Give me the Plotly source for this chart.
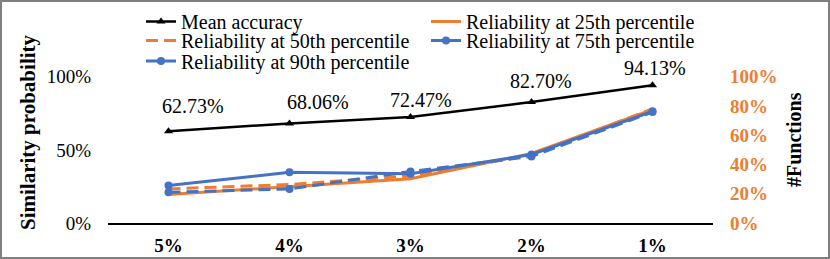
import plotly.graph_objects as go

categories = ["5%", "4%", "3%", "2%", "1%"]
mean_accuracy = [0.6273, 0.6806, 0.7247, 0.8270, 0.9413]
mean_labels = ["62.73%", "68.06%", "72.47%", "82.70%", "94.13%"]
rel_25 = [0.195, 0.251, 0.302, 0.475, 0.775]
rel_50 = [0.233, 0.263, 0.322, 0.465, 0.78]
rel_75 = [0.256, 0.347, 0.336, 0.468, 0.763]
rel_90 = [0.210, 0.233, 0.352, 0.455, 0.758]

left_ticks = [0, 0.5, 1.0]
right_ticks = [0, 0.2, 0.4, 0.6, 0.8, 1.0]

# label offsets (styling)
label_dx = [24, 28, 10, 9, 2]
label_dy = [25, 21, 17, 21, 17]

ORANGE = "#ED7D31"
BLUE = "#4472C4"
FONT = "Liberation Serif"

W, H = 830, 259
L, R, T, B = 108, 117, 0, 36
pw, ph = W - L - R, H - T - B
YMAX = ph / 146.3


def px_x(p):
    return (p - L) / pw


def px_y(p):
    return (H - B - p) / ph


fig = go.Figure()
fig.add_trace(go.Scatter(x=categories, y=mean_accuracy, name="Mean accuracy",
                         mode="lines+markers", yaxis="y", legend="legend",
                         line=dict(color="black", width=2.5),
                         marker=dict(symbol="triangle-up", size=8, color="black")))
fig.add_trace(go.Scatter(x=categories, y=rel_25, name="Reliability at 25th percentile",
                         mode="lines", yaxis="y2", legend="legend",
                         line=dict(color=ORANGE, width=3)))
fig.add_trace(go.Scatter(x=categories, y=rel_50, name="Reliability at 50th percentile",
                         mode="lines", yaxis="y2", legend="legend2",
                         line=dict(color=ORANGE, width=3, dash="12px,6px")))
fig.add_trace(go.Scatter(x=categories, y=rel_75, name="Reliability at 75th percentile",
                         mode="lines+markers", yaxis="y2", legend="legend2",
                         line=dict(color=BLUE, width=3),
                         marker=dict(symbol="circle", size=8, color=BLUE)))
fig.add_trace(go.Scatter(x=categories, y=rel_90, name="Reliability at 90th percentile",
                         mode="lines+markers", yaxis="y2", legend="legend3",
                         line=dict(color=BLUE, width=3, dash="12px,6px"),
                         marker=dict(symbol="circle", size=8, color=BLUE)))

for c, v, t, dx, dy in zip(categories, mean_accuracy, mean_labels, label_dx, label_dy):
    fig.add_annotation(x=c, y=v, xref="x", yref="y", text=t, showarrow=False,
                       xshift=dx, yshift=dy, font=dict(family=FONT, size=20, color="black"))

fig.add_annotation(x=px_x(28), y=px_y(132), xref="paper", yref="paper",
                   xanchor="center", yanchor="middle",
                   text="<b>Similarity probability</b>", textangle=-90, showarrow=False,
                   font=dict(family=FONT, size=21, color="black"))
fig.add_annotation(x=px_x(794), y=px_y(140), xref="paper", yref="paper",
                   xanchor="center", yanchor="middle",
                   text="<b>#Functions</b>", textangle=-90, showarrow=False,
                   font=dict(family=FONT, size=20, color="black"))

fig.add_shape(type="rect", xref="paper", yref="paper",
              x0=px_x(1), x1=px_x(829), y0=px_y(258), y1=px_y(1),
              line=dict(color="#7f7f7f", width=2))

legend_common = dict(orientation="h", xanchor="left", yanchor="top",
                     entrywidth=240, entrywidthmode="pixels",
                     font=dict(family=FONT, size=20, color="black"),
                     bgcolor="rgba(0,0,0,0)", borderwidth=0)

fig.update_layout(
    width=W, height=H,
    margin=dict(l=L, r=R, t=T, b=B, pad=0),
    paper_bgcolor="white", plot_bgcolor="white",
    font=dict(family=FONT, size=19, color="black"),
    showlegend=True,
    legend=dict(x=px_x(141), y=px_y(2), **legend_common),
    legend2=dict(x=px_x(141), y=px_y(21), **legend_common),
    legend3=dict(x=px_x(141), y=px_y(41.5), **legend_common),
    xaxis=dict(type="category", range=[-0.5, 4.5], showgrid=False, showline=True,
               linecolor="black", linewidth=1.5,
               ticks="", tickfont=dict(family=FONT, size=19, color="black", weight="bold"),
               ticklabelstandoff=4, zeroline=False, automargin=False),
    yaxis=dict(range=[0, YMAX], tickvals=left_ticks, tickformat=".0%", showgrid=False,
               showline=False, zeroline=False, ticks="", ticklabelstandoff=16,
               automargin=False,
               tickfont=dict(family=FONT, size=19, color="black")),
    yaxis2=dict(range=[0, YMAX], tickvals=right_ticks, tickformat=".0%", overlaying="y",
                side="right", showgrid=False, showline=False, zeroline=False, ticks="",
                ticklabelstandoff=16, automargin=False,
                tickfont=dict(family=FONT, size=19, color=ORANGE, weight="bold")),
)

fig.write_html("out.html", config={"displayModeBar": False},
               post_script="document.body.style.margin='0';")
